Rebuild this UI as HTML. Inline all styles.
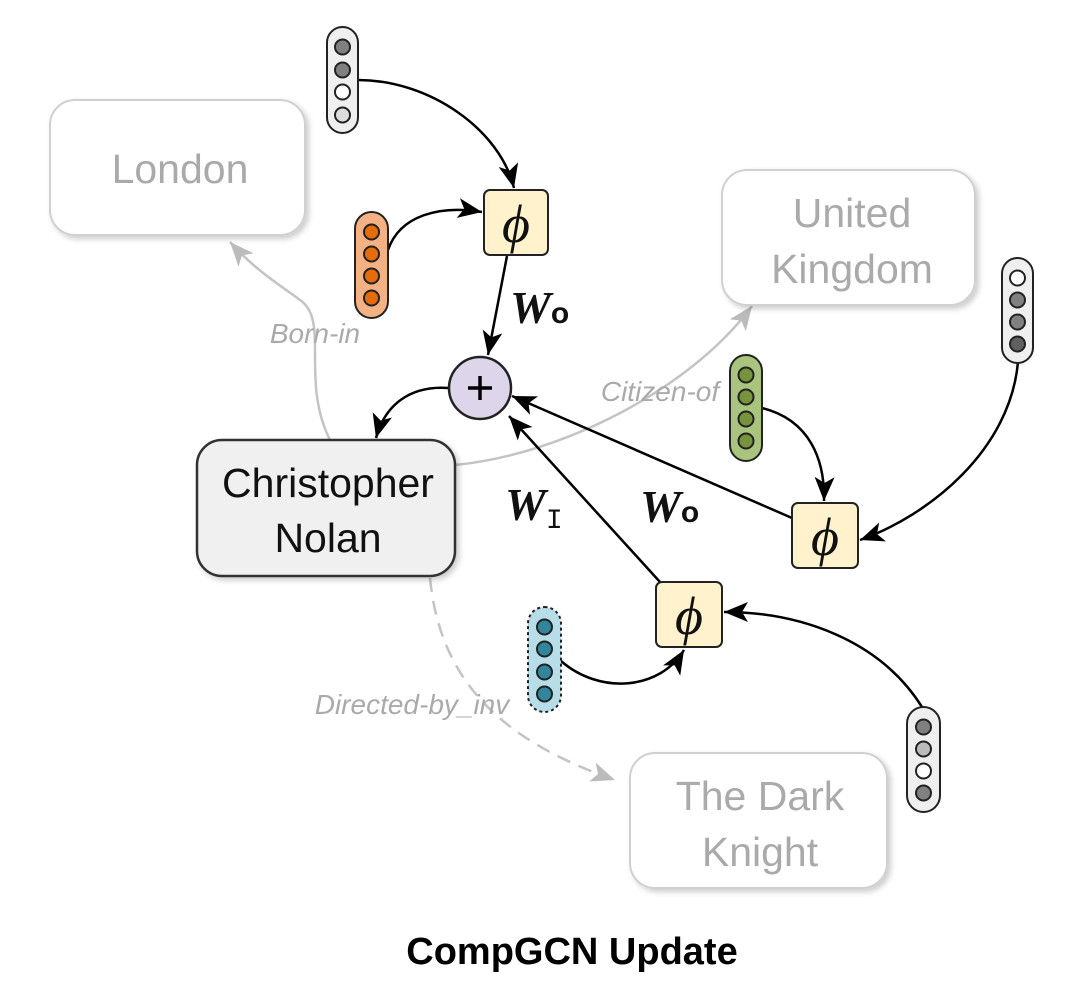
<!DOCTYPE html>
<html><head><meta charset="utf-8"><style>
html,body{margin:0;padding:0;background:#fff;width:1080px;height:1004px;overflow:hidden}
svg{display:block}
.n{font-family:"Liberation Sans",sans-serif;font-size:41px;fill:#aaa;text-anchor:middle}
.lab{font-family:"Liberation Sans",sans-serif;font-size:28px;font-style:italic;fill:#aaa;text-anchor:middle}
.w{font-family:"Liberation Serif",serif;font-size:46px;font-style:italic;font-weight:bold;fill:#111}
.phi{font-family:"Liberation Serif",serif;font-size:54px;font-style:italic;fill:#111;text-anchor:middle}
</style></head><body>
<svg width="1080" height="1004" viewBox="0 0 1080 1004">
<defs>
<marker id="b" viewBox="-14 -11 26 22" refX="10" refY="0" markerWidth="26" markerHeight="22" orient="auto" markerUnits="userSpaceOnUse"><path d="M-14,-10 L10,0 L-14,10 L-8,0z" fill="#000"/></marker>
<marker id="g" viewBox="-14 -11 26 22" refX="10" refY="0" markerWidth="26" markerHeight="22" orient="auto" markerUnits="userSpaceOnUse"><path d="M-14,-10 L10,0 L-14,10 L-8,0z" fill="#bbb"/></marker>
<filter id="sh" x="-10%" y="-10%" width="130%" height="130%"><feDropShadow dx="3" dy="3" stdDeviation="3" flood-color="#000" flood-opacity="0.2"/></filter>
</defs>

<path d="M330,440 C300,380 330,320 300,300 C280,285 255,270 230,242" fill="none" stroke="#c4c4c4" stroke-width="2.5" marker-end="url(#g)"/>
<path d="M455,465 C560,455 690,390 752,306" fill="none" stroke="#c4c4c4" stroke-width="2.5" marker-end="url(#g)"/>
<path d="M430,578 C440,680 500,740 615,780" fill="none" stroke="#c4c4c4" stroke-width="2.5" stroke-dasharray="14,9" marker-end="url(#g)"/>
<text class="lab" x="315" y="343">Born-in</text>
<text class="lab" x="660" y="401">Citizen-of</text>
<text class="lab" x="412" y="714">Directed-by_inv</text>

<rect x="50" y="100" width="255" height="135" rx="25" fill="#fff" stroke="#d0d0d0" stroke-width="2" filter="url(#sh)"/>
<text class="n" x="180" y="183">London</text>
<rect x="722" y="170" width="253" height="135" rx="25" fill="#fff" stroke="#d0d0d0" stroke-width="2" filter="url(#sh)"/>
<text class="n" x="852" y="227">United</text>
<text class="n" x="852" y="283">Kingdom</text>
<rect x="630" y="753" width="257" height="135" rx="25" fill="#fff" stroke="#d0d0d0" stroke-width="2" filter="url(#sh)"/>
<text class="n" x="760" y="810">The Dark</text>
<text class="n" x="760" y="866">Knight</text>
<rect x="197" y="440" width="258" height="136" rx="25" fill="#f0f0f0" stroke="#333" stroke-width="2.5" filter="url(#sh)"/>
<text class="n" x="328" y="497" style="fill:#111;font-size:41px">Christopher</text>
<text class="n" x="328" y="552" style="fill:#111;font-size:41px">Nolan</text>

<g fill="none" stroke="#000" stroke-width="2.5">
<path d="M358,80 C430,80 500,130 514,188" marker-end="url(#b)"/>
<path d="M388,250 C400,215 440,205 482,212" marker-end="url(#b)"/>
<path d="M507,256 L488,355" marker-end="url(#b)"/>
<path d="M449,388 C410,385 385,405 376,438" marker-end="url(#b)"/>
<path d="M792,518 L512,396" marker-end="url(#b)"/>
<path d="M660,582 L509,416" marker-end="url(#b)"/>
<path d="M762,408 C810,420 825,460 824,501" marker-end="url(#b)"/>
<path d="M1018,362 C1010,450 930,515 860,540" marker-end="url(#b)"/>
<path d="M561,661 C600,695 660,690 684,650" marker-end="url(#b)"/>
<path d="M922,707 C880,640 800,612 724,612" marker-end="url(#b)"/>
</g>
<text class="w" x="510" y="323">W<tspan font-size="30" font-style="normal" font-family="Liberation Sans">o</tspan></text>
<text class="w" x="640" y="522">W<tspan font-size="30" font-style="normal" font-family="Liberation Sans">o</tspan></text>
<text class="w" x="505" y="520">W<tspan font-size="28" font-style="normal" font-weight="normal" font-family="Liberation Mono" dy="8">I</tspan></text>

<rect x="484" y="190" width="64" height="65" rx="6" fill="#fff2cc" stroke="#222" stroke-width="2"/>
<text class="phi" x="516" y="242">ϕ</text>
<rect x="792" y="503" width="66" height="65" rx="6" fill="#fff2cc" stroke="#222" stroke-width="2"/>
<text class="phi" x="825" y="555">ϕ</text>
<rect x="656" y="582" width="66" height="65" rx="6" fill="#fff2cc" stroke="#222" stroke-width="2"/>
<text class="phi" x="689" y="634">ϕ</text>

<circle cx="480" cy="388" r="31" fill="#ddd6ea" stroke="#222" stroke-width="2.5"/>
<path d="M468,388 H492 M480,376 V400" stroke="#000" stroke-width="3.5"/>

<g stroke="#222" stroke-width="2">
<rect x="327" y="27" width="31" height="106" rx="15.5" fill="#efefef"/>
<circle cx="342.5" cy="47" r="7.5" fill="#808080"/><circle cx="342.5" cy="70" r="7.5" fill="#808080"/><circle cx="342.5" cy="92" r="7.5" fill="#fff"/><circle cx="342.5" cy="115" r="7.5" fill="#ddd"/>
<rect x="355" y="212" width="33" height="106" rx="16.5" fill="#f4b183"/>
<circle cx="371.5" cy="232" r="7.5" fill="#e46c0a"/><circle cx="371.5" cy="254" r="7.5" fill="#e46c0a"/><circle cx="371.5" cy="276" r="7.5" fill="#e46c0a"/><circle cx="371.5" cy="298" r="7.5" fill="#e46c0a"/>
<rect x="730" y="355" width="32" height="106" rx="16" fill="#a9c47f"/>
<circle cx="746" cy="375" r="7.5" fill="#77933c"/><circle cx="746" cy="397" r="7.5" fill="#77933c"/><circle cx="746" cy="419" r="7.5" fill="#77933c"/><circle cx="746" cy="441" r="7.5" fill="#77933c"/>
<rect x="1002" y="258" width="31" height="105" rx="15.5" fill="#efefef"/>
<circle cx="1017.5" cy="278" r="7.5" fill="#fff"/><circle cx="1017.5" cy="300" r="7.5" fill="#808080"/><circle cx="1017.5" cy="322" r="7.5" fill="#808080"/><circle cx="1017.5" cy="344" r="7.5" fill="#606060"/>
<rect x="528" y="607" width="33" height="105" rx="16.5" fill="#b7dde8" stroke-dasharray="3,3"/>
<circle cx="544.5" cy="627" r="7.5" fill="#31859c"/><circle cx="544.5" cy="649" r="7.5" fill="#31859c"/><circle cx="544.5" cy="672" r="7.5" fill="#31859c"/><circle cx="544.5" cy="694" r="7.5" fill="#31859c"/>
<rect x="907" y="707" width="33" height="105" rx="16.5" fill="#efefef"/>
<circle cx="923.5" cy="727" r="7.5" fill="#808080"/><circle cx="923.5" cy="749" r="7.5" fill="#bbb"/><circle cx="923.5" cy="771" r="7.5" fill="#fff"/><circle cx="923.5" cy="793" r="7.5" fill="#808080"/>
</g>

<text x="572" y="964" font-family="Liberation Sans,sans-serif" font-size="38" font-weight="bold" fill="#000" text-anchor="middle">CompGCN Update</text>
</svg>
</body></html>
